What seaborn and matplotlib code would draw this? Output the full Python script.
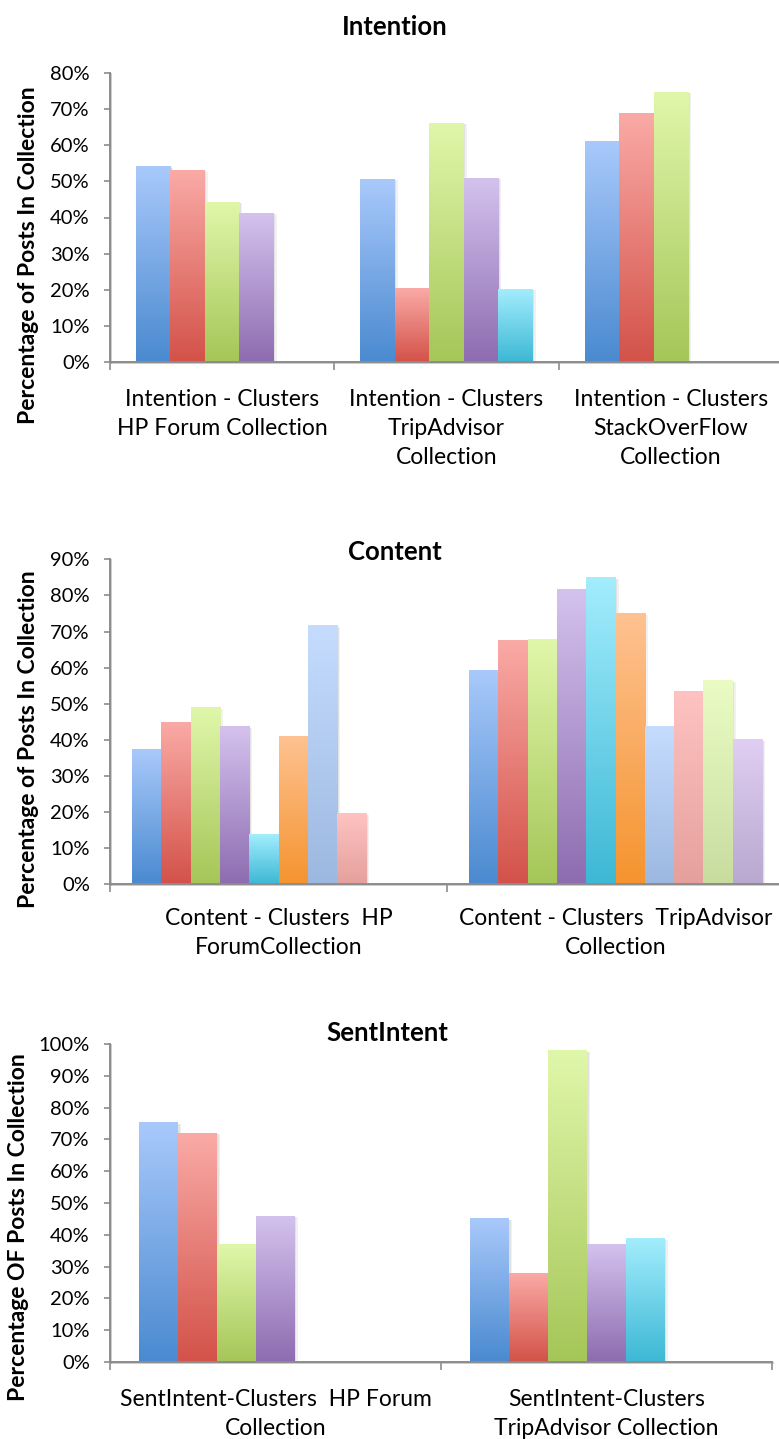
import numpy as np
import pandas as pd
import matplotlib
matplotlib.use("Agg")
import matplotlib.pyplot as plt
import seaborn as sns
from matplotlib import patheffects as pe
from matplotlib.colors import to_rgb
from matplotlib.ticker import MultipleLocator, FuncFormatter

# ---------------------------------------------------------------- data
# Percentage of posts in each cluster, per collection (cluster 1, 2, ...)
intention_categories = [
    "Intention - Clusters\nHP Forum Collection",
    "Intention - Clusters\nTripAdvisor\nCollection",
    "Intention - Clusters\nStackOverFlow\nCollection",
]
intention_hp = [54.2, 53.0, 44.3, 41.3]
intention_tripadvisor = [50.7, 20.4, 66.2, 51.0, 20.2]
intention_stackoverflow = [61.2, 69.0, 74.8]
intention_n_clusters = 5

content_categories = [
    "Content - Clusters  HP\nForumCollection",
    "Content - Clusters  TripAdvisor\nCollection",
]
content_hp = [37.2, 44.7, 48.8, 43.6, 13.7, 40.8, 71.6, 19.5]
content_tripadvisor = [59.1, 67.4, 67.7, 81.5, 84.9, 74.9, 43.6, 53.3, 56.3, 40.0]
content_n_clusters = 10

sentintent_categories = [
    "SentIntent-Clusters  HP Forum\nCollection",
    "SentIntent-Clusters\nTripAdvisor Collection",
]
sentintent_hp = [75.2, 72.0, 37.1, 45.9]
sentintent_tripadvisor = [45.0, 27.7, 97.8, 36.8, 38.7]
sentintent_n_clusters = 7

# ---------------------------------------------------------------- style
# (top, bottom) colours of the vertical gradient used for each cluster
GRADIENTS = [
    ("#A9C9FB", "#4A8AD0"),
    ("#FAAAA6", "#D35249"),
    ("#E0F7AA", "#A5C658"),
    ("#D4C2EE", "#8D6CB0"),
    ("#A3EDFD", "#3DB8D5"),
    ("#FEC291", "#F5942F"),
    ("#C5DCFE", "#9DB8E0"),
    ("#FEC3C1", "#E5A09D"),
    ("#EAFCC3", "#C8DCA0"),
    ("#E0CFF2", "#B9A8CF"),
]
AXIS_GREY = "#8c8c8c"
W, H = 779, 1439

sns.set_theme(style="ticks")
plt.rcParams["font.family"] = ["Lato", "DejaVu Sans"]

fig = plt.figure(figsize=(W / 100, H / 100), dpi=100)


def px_axes(left, top, right, bottom):
    return fig.add_axes([left / W, 1 - bottom / H, (right - left) / W, (bottom - top) / H])


def long_frame(categories, groups):
    rows = []
    for cat, vals in zip(categories, groups):
        for i, v in enumerate(vals):
            rows.append({"collection": cat, "cluster": f"Cluster {i + 1}", "pct": v})
    return pd.DataFrame(rows)


def mid_colour(k):
    a, b = np.array(to_rgb(GRADIENTS[k][0])), np.array(to_rgb(GRADIENTS[k][1]))
    return tuple((a + b) / 2)


def gradient_fill(ax, n_clusters):
    mids = np.array([mid_colour(k) for k in range(n_clusters)])
    t = np.linspace(0, 1, 256)[:, None, None]
    for patch in list(ax.patches):
        h = patch.get_height()
        if not np.isfinite(h) or h <= 0:
            continue
        fc = np.array(patch.get_facecolor()[:3])
        k = int(np.argmin(((mids - fc) ** 2).sum(axis=1)))
        top, bottom = np.array(to_rgb(GRADIENTS[k][0])), np.array(to_rgb(GRADIENTS[k][1]))
        img = bottom * (1 - t) + top * t
        x0, w = patch.get_x(), patch.get_width()
        ax.imshow(img, extent=[x0, x0 + w, 0, h], origin="lower", aspect="auto",
                  interpolation="bilinear", zorder=patch.get_zorder() + 0.5)
        patch.set_facecolor("none")
        patch.set_edgecolor("none")
        patch.set_path_effects([
            pe.SimplePatchShadow(offset=(2.2, -1.0), shadow_rgbFace=(0.55, 0.55, 0.55), alpha=0.12),
            pe.SimplePatchShadow(offset=(1.1, -0.6), shadow_rgbFace=(0.55, 0.55, 0.55), alpha=0.14),
            pe.Normal(),
        ])


def panel(box, title, title_xy, ylabel, ylabel_xy, categories, groups, n_clusters, ymax, xpad):
    ax = px_axes(*box)
    df = long_frame(categories, groups)
    order = [f"Cluster {k + 1}" for k in range(n_clusters)]
    palette = {order[k]: mid_colour(k) for k in range(n_clusters)}
    sns.barplot(data=df, x="collection", y="pct", hue="cluster", order=categories,
                hue_order=order, palette=palette, width=n_clusters / (n_clusters + 1.5),
                saturation=1, errorbar=None, legend=False, ax=ax)
    gradient_fill(ax, n_clusters)

    n = len(categories)
    ax.set_xlim(-0.5, n - 0.5)
    ax.set_ylim(0, ymax)
    ax.set_xlabel("")

    for side in ("top", "right"):
        ax.spines[side].set_visible(False)
    for side in ("left", "bottom"):
        ax.spines[side].set_color(AXIS_GREY)
        ax.spines[side].set_linewidth(1.4)
        ax.spines[side].set_zorder(5)
        ax.spines[side].set_path_effects([
            pe.SimpleLineShadow(offset=(0.8, -0.8), shadow_color="0.6", alpha=0.5),
            pe.Normal(),
        ])

    ax.yaxis.set_major_locator(MultipleLocator(10))
    ax.yaxis.set_major_formatter(FuncFormatter(lambda v, p: f"{v:.0f}%"))
    ax.tick_params(axis="y", which="major", left=True, direction="out", length=4.5,
                   width=1.2, color=AXIS_GREY, pad=10, labelsize=14.5, labelcolor="black")

    ax.set_xticks(range(n))
    ax.set_xticklabels(categories, linespacing=1.45)
    ax.set_xticks(np.arange(n + 1) - 0.5, minor=True)
    ax.tick_params(axis="x", which="major", bottom=True, length=0, pad=xpad,
                   labelsize=16.5, labelcolor="black")
    ax.tick_params(axis="x", which="minor", bottom=True, direction="out", length=5.5,
                   width=1.2, color=AXIS_GREY)

    left, top, right, bottom = box
    tx = (title_xy[0] - left) / (right - left)
    ty = (bottom - title_xy[1]) / (bottom - top)
    ax.set_title(title, x=tx, y=ty, va="center", pad=0, fontsize=18.5, fontweight="bold",
                 color="black")

    ax.set_ylabel(ylabel, fontsize=16.5, fontweight="bold", color="black", va="center", ha="center")
    ax.yaxis.set_label_coords(ylabel_xy[0] / W, 1 - ylabel_xy[1] / H, transform=fig.transFigure)
    return ax


panel((110, 73.3, 783, 361.7), "Intention", (395, 27),
      "Percentage of Posts In Collection", (29, 255),
      intention_categories, [intention_hp, intention_tripadvisor, intention_stackoverflow],
      intention_n_clusters, 80, 20)

panel((110, 559.3, 784, 884.3), "Content", (395, 552),
      "Percentage of Posts In Collection", (29, 739.5),
      content_categories, [content_hp, content_tripadvisor],
      content_n_clusters, 90, 17)

panel((110, 1044, 772, 1362), "SentIntent", (387, 1033),
      "Percentage OF Posts In Collection", (19, 1227.5),
      sentintent_categories, [sentintent_hp, sentintent_tripadvisor],
      sentintent_n_clusters, 100, 19.5)

fig.savefig("out.png", dpi=100, facecolor="white")
